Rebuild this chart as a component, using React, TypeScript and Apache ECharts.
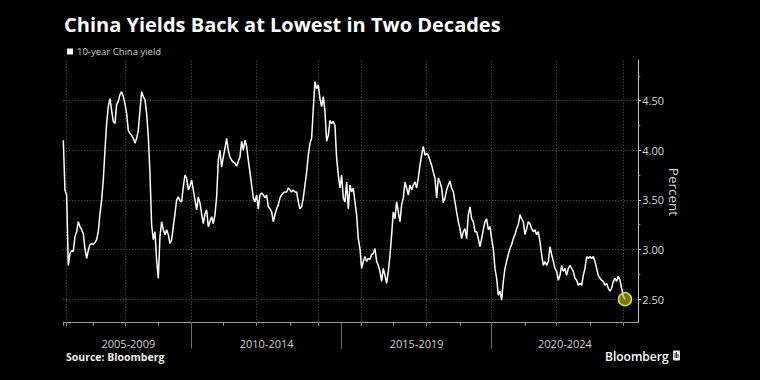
import React, { useEffect, useRef } from "react";
import * as echarts from "echarts";

// ---- data ----
const years = [2005, 2006, 2007, 2008, 2009, 2010, 2011, 2012, 2013, 2014, 2015, 2016, 2017, 2018, 2019, 2020, 2021, 2022, 2023, 2024];
// number of observations plotted in each calendar year (the reference axis is observation-based)
const samplesPerYear = [2, 16, 19, 20, 20, 19, 20, 20, 17, 14, 12, 19, 20, 20, 19, 20, 19, 20, 20, 10];
const periodStartYears = [2005, 2010, 2015, 2020];
const periodLabels = ["2005-2009", "2010-2014", "2015-2019", "2020-2024"];
const yMajorTicks = [2.5, 3.0, 3.5, 4.0, 4.5];
const yMinorTicks = [2.75, 3.25, 3.75, 4.25, 4.75];
const yMin = 2.263;
const yMax = 4.909;

// 10-year China government bond yield, percent
const yields = [
  4.10, 3.60, 3.55, 2.84, 2.96, 2.99, 2.98, 3.13, 3.18, 3.28,
  3.23, 3.20, 3.16, 3.01, 2.91, 2.99, 3.05, 3.06, 3.05, 3.07,
  3.10, 3.18, 3.36, 3.50, 3.70, 4.00, 4.27, 4.44, 4.52, 4.40,
  4.29, 4.27, 4.46, 4.49, 4.56, 4.59, 4.54, 4.47, 4.37, 4.20,
  4.17, 4.15, 4.12, 4.07, 4.12, 4.20, 4.40, 4.59, 4.54, 4.51,
  4.37, 4.14, 3.77, 3.25, 3.10, 3.18, 2.89, 2.71, 3.13, 3.28,
  3.20, 3.15, 3.20, 3.15, 3.06, 3.10, 3.23, 3.36, 3.50, 3.53,
  3.49, 3.48, 3.63, 3.75, 3.72, 3.60, 3.64, 3.70, 3.60, 3.50,
  3.40, 3.53, 3.47, 3.36, 3.26, 3.36, 3.40, 3.23, 3.28, 3.33,
  3.26, 3.35, 3.53, 3.90, 4.00, 3.83, 3.93, 4.02, 4.12, 4.00,
  3.93, 3.90, 3.88, 3.87, 3.84, 3.89, 3.93, 4.09, 4.00, 4.10,
  4.04, 3.90, 3.78, 3.65, 3.52, 3.48, 3.55, 3.41, 3.55, 3.57,
  3.55, 3.52, 3.55, 3.43, 3.41, 3.38, 3.28, 3.35, 3.41, 3.45,
  3.52, 3.55, 3.57, 3.58, 3.58, 3.62, 3.60, 3.58, 3.60, 3.58,
  3.58, 3.48, 3.41, 3.43, 3.52, 3.65, 3.78, 3.95, 4.07, 4.12,
  4.42, 4.69, 4.62, 4.66, 4.52, 4.44, 4.54, 4.39, 4.09, 4.15,
  4.30, 4.27, 4.29, 4.25, 3.92, 3.75, 3.62, 3.75, 3.52, 3.48,
  3.68, 3.41, 3.65, 3.58, 3.62, 3.48, 3.35, 3.11, 3.01, 2.81,
  2.88, 2.93, 2.88, 2.91, 2.90, 2.95, 2.96, 3.01, 2.88, 2.84,
  2.78, 2.68, 2.81, 2.74, 2.66, 2.78, 2.94, 3.15, 3.38, 3.31,
  3.48, 3.38, 3.28, 3.45, 3.52, 3.68, 3.62, 3.55, 3.65, 3.60,
  3.65, 3.68, 3.62, 3.72, 3.85, 3.95, 4.04, 3.95, 3.97, 3.95,
  3.90, 3.85, 3.78, 3.72, 3.52, 3.72, 3.68, 3.62, 3.47, 3.52,
  3.60, 3.65, 3.69, 3.62, 3.58, 3.48, 3.38, 3.28, 3.21, 3.11,
  3.18, 3.21, 3.11, 3.35, 3.43, 3.31, 3.28, 3.18, 3.18, 3.11,
  3.03, 3.11, 3.20, 3.28, 3.31, 3.20, 3.23, 3.11, 3.01, 2.81,
  2.71, 2.54, 2.58, 2.49, 2.68, 2.81, 2.88, 2.95, 3.01, 3.05,
  3.11, 3.15, 3.21, 3.25, 3.35, 3.31, 3.28, 3.15, 3.21, 3.28,
  3.26, 3.21, 3.18, 3.20, 3.15, 3.18, 3.08, 2.95, 2.84, 2.88,
  2.84, 2.88, 3.03, 2.95, 2.88, 2.81, 2.78, 2.69, 2.74, 2.84,
  2.78, 2.81, 2.74, 2.81, 2.84, 2.81, 2.78, 2.71, 2.69, 2.64,
  2.66, 2.64, 2.74, 2.81, 2.93, 2.91, 2.93, 2.91, 2.93, 2.88,
  2.81, 2.74, 2.71, 2.69, 2.68, 2.64, 2.66, 2.61, 2.58, 2.61,
  2.68, 2.71, 2.68, 2.73, 2.69, 2.61, 2.53, 2.50,
];

// ---- derived tables for the library ----
const categories: string[] = [];
const yearStart: Record<number, number> = {};
years.forEach((y, i) => {
  yearStart[y] = categories.length;
  for (let j = 0; j < samplesPerYear[i]; j++) categories.push(`${y}-${j + 1}`);
});
const yearStartIdx = new Set(years.map((y) => yearStart[y]));
const evenYearCats = years.filter((y) => y % 2 === 0).map((y) => categories[yearStart[y]]);
const periodBoundaryIdx = new Set(periodStartYears.slice(1).map((y) => yearStart[y]));
const labelAt: Record<number, string> = {};
periodStartYears.forEach((y, i) => {
  const s = yearStart[y];
  const e = i + 1 < periodStartYears.length ? yearStart[periodStartYears[i + 1]] : categories.length - 1;
  labelAt[Math.round((s + e) / 2)] = periodLabels[i];
});
const seriesData = categories.map((_, i) => (i < yields.length ? yields[i] : null));
const lastIdx = yields.length - 1;

const FONT = "'Open Sans', 'Noto Sans', sans-serif";

export default function App() {
  const ref = useRef<HTMLDivElement>(null);
  useEffect(() => {
    if (!ref.current) return;
    const chart = echarts.init(ref.current, null, { renderer: "svg" });
    const gridColor = "#5a5a5a";
    chart.setOption({
      animation: false,
      backgroundColor: "#000000",
      textStyle: { fontFamily: FONT },
      grid: { left: 63.3, right: 121.7, top: 60, bottom: 57.3, containLabel: false, outerBoundsMode: "none" } as any,
      xAxis: [
        {
          type: "category",
          data: categories,
          boundaryGap: false,
          position: "bottom",
          axisLine: { show: true, lineStyle: { color: "#9a9a9a", width: 1 } },
          axisTick: {
            show: true,
            interval: (i: number) => yearStartIdx.has(i),
            length: 3,
            lineStyle: { color: "#9a9a9a" },
          },
          axisLabel: {
            show: true,
            interval: (i: number) => labelAt[i] !== undefined,
            formatter: (_v: string, i: number) => labelAt[i] ?? "",
            color: "#cfcfcf",
            fontSize: 11,
            fontFamily: FONT,
            margin: 15,
          },
          splitLine: { show: false },
        },
        {
          type: "category",
          data: categories,
          boundaryGap: false,
          position: "bottom",
          axisLine: { show: false },
          axisTick: {
            show: true,
            interval: (i: number) => periodBoundaryIdx.has(i),
            length: 26,
            lineStyle: { color: "#6a6a6a" },
          },
          axisLabel: { show: false },
          splitLine: { show: false },
        },
      ],
      yAxis: [
        {
          type: "value",
          position: "right",
          min: yMin,
          max: yMax,
          axisLine: { show: true, lineStyle: { color: "#c8c8c8", width: 1 } },
          axisTick: { show: true, customValues: yMajorTicks, length: 3, lineStyle: { color: "#c8c8c8" } },
          axisLabel: {
            customValues: yMajorTicks,
            formatter: (v: number) => v.toFixed(2),
            color: "#d6d6d6",
            fontSize: 11,
            fontFamily: FONT,
            margin: 4,
          },
          splitLine: { show: true, lineStyle: { color: gridColor, type: [1, 2], width: 1 } },
        },
        {
          type: "value",
          position: "right",
          min: yMin,
          max: yMax,
          axisLine: { show: false },
          axisTick: { show: true, customValues: yMinorTicks, length: 2, lineStyle: { color: "#8a8a8a" } },
          axisLabel: { show: false },
          splitLine: { show: false },
        },
      ],
      series: [
        {
          type: "line",
          data: seriesData,
          xAxisIndex: 0,
          yAxisIndex: 0,
          showSymbol: false,
          connectNulls: false,
          z: 3,
          lineStyle: { color: "#ffffff", width: 1.5 },
          itemStyle: { color: "#ffffff" },
          markLine: {
            silent: true,
            symbol: ["none", "none"],
            label: { show: false },
            lineStyle: { color: gridColor, type: [1, 2], width: 1 },
            data: evenYearCats.map((c) => ({ xAxis: c })),
            z: 1,
          },
          markPoint: {
            symbol: "circle",
            symbolSize: 13,
            label: { show: false },
            itemStyle: { color: "rgba(200, 192, 30, 0.6)", borderColor: "#e0d840", borderWidth: 1.5 },
            data: [{ coord: [lastIdx, yields[lastIdx]] }],
          },
        },
      ],
      graphic: [
        {
          type: "text",
          left: 64,
          top: 14,
          style: { text: "China Yields Back at Lowest in Two Decades", fill: "#ffffff", font: `bold 20px ${FONT}` },
        },
        { type: "rect", shape: { x: 67, y: 48.5, width: 6, height: 6 }, style: { fill: "#ffffff" } },
        {
          type: "text",
          x: 77,
          y: 51.5,
          style: { text: "10-year China yield", fill: "#cccccc", font: `9.5px ${FONT}`, textVerticalAlign: "middle" },
        },
        {
          type: "text",
          x: 674,
          y: 192,
          rotation: -Math.PI / 2,
          style: { text: "Percent", fill: "#d6d6d6", font: `13.5px ${FONT}`, textAlign: "center", textVerticalAlign: "middle" },
        },
        {
          type: "text",
          x: 66,
          y: 357,
          style: { text: "Source: Bloomberg", fill: "#eeeeee", font: `bold 10.5px ${FONT}`, textVerticalAlign: "middle" },
        },
        {
          type: "text",
          x: 605,
          y: 356,
          style: { text: "Bloomberg", fill: "#ffffff", font: `600 12px ${FONT}`, textVerticalAlign: "middle" },
        },
        { type: "rect", shape: { x: 673, y: 350.5, width: 7, height: 10, r: 1 }, style: { fill: "#e8e8e8" } },
        { type: "line", shape: { x1: 675, y1: 353, x2: 675, y2: 358 }, style: { stroke: "#000", lineWidth: 0.8 } },
        { type: "line", shape: { x1: 676.5, y1: 352, x2: 676.5, y2: 358 }, style: { stroke: "#000", lineWidth: 0.8 } },
        { type: "line", shape: { x1: 678, y1: 354, x2: 678, y2: 358 }, style: { stroke: "#000", lineWidth: 0.8 } },
      ],
    } as any);
    return () => chart.dispose();
  }, []);
  return (
    <div
      ref={ref}
      style={{ position: "fixed", left: 0, top: 0, width: 760, height: 380, background: "#000" }}
    />
  );
}
